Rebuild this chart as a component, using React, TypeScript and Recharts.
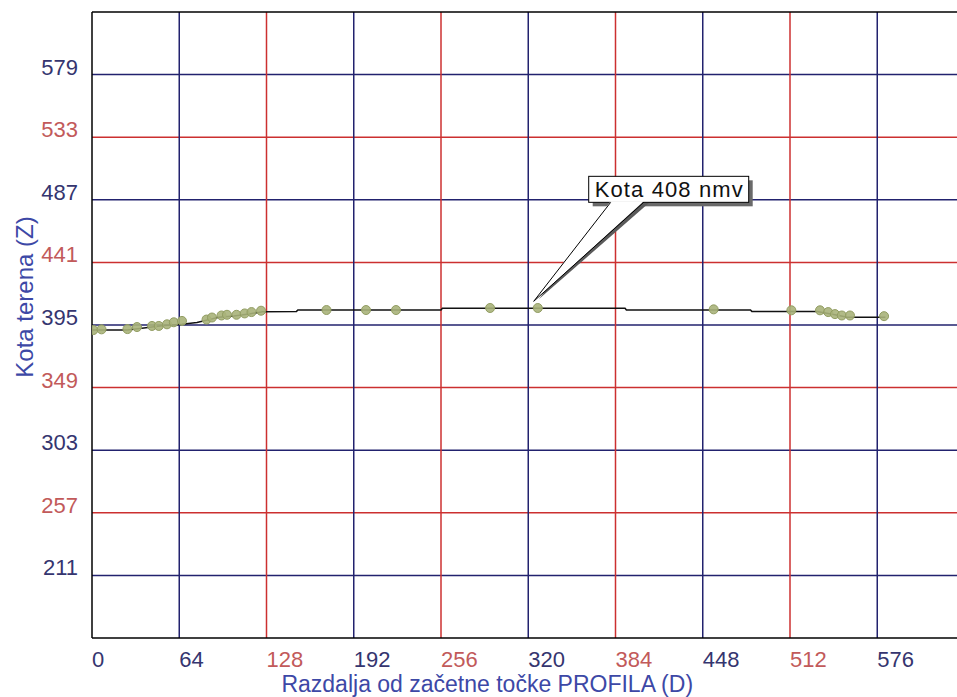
import React from "react";
import {
  ComposedChart,
  Line,
  XAxis,
  YAxis,
  ReferenceLine,
  ReferenceDot,
  Label,
} from "recharts";

// measured survey points (distance D, elevation Z)
const pointDist = [1, 7, 26, 33, 44, 49, 55, 60, 66, 84, 88, 95, 99, 106, 112, 117, 124, 172, 201, 223, 292, 327, 456, 513, 534, 540, 545, 550, 556, 581];
const pointElev = [391.3, 391.8, 392, 393.5, 394.3, 394.3, 395.5, 397, 398, 399, 400.5, 402, 402.5, 402.5, 403.5, 404.5, 405.5, 406, 406, 406, 407.5, 407.5, 406.5, 405.8, 405.8, 404.5, 403, 402, 402, 401.5];

// terrain profile line
const lineDist = [0, 26, 53, 66, 77, 93, 104, 115, 125, 150, 151, 256, 257, 391, 392, 483, 484, 532, 545, 554, 582];
const lineElev = [391.3, 391.3, 394.6, 395.5, 396.8, 400.7, 401.6, 403, 404.8, 405, 406, 406, 407.3, 407.3, 406, 406, 405, 405, 402.5, 400.7, 400.7];

const xTicks = [0, 64, 128, 192, 256, 320, 384, 448, 512, 576];
const yTicks = [211, 257, 303, 349, 395, 441, 487, 533, 579];

const calloutAt = { d: 324, z: 412.4, text: "Kota 408 nmv" };

const points = pointDist.map((d, i) => ({ d, z: pointElev[i] }));
const profile = lineDist.map((d, i) => ({ d, z: lineElev[i] }));

const BLUE = "#22226e";
const RED = "#cc3030";
const BLUE_TXT = "#35356f";
const RED_TXT = "#c25a5a";
const TITLE = "#3d48a6";
const FONT = "'Liberation Sans', Arial, sans-serif";

const xIsRed = (v: number) => v > 0 && (v / 64) % 2 === 0;
const yIsRed = (v: number) => ((v - 211) / 46) % 2 === 1;

const XTick = (props: any) => {
  const v = props.payload.value;
  return (
    <text x={props.x} y={props.y + 27} textAnchor="start" fontSize={22} fontFamily={FONT} fill={xIsRed(v) ? RED_TXT : BLUE_TXT}>
      {v}
    </text>
  );
};

const YTick = (props: any) => {
  const v = props.payload.value;
  return (
    <text x={props.x} y={props.y} textAnchor="end" fontSize={22} fontFamily={FONT} fill={yIsRed(v) ? RED_TXT : BLUE_TXT}>
      {v}
    </text>
  );
};

const Callout = (props: any) => {
  const { cx, cy } = props;
  const bx = cx + 55;
  const by = cy - 125;
  return (
    <g>
      <rect x={bx + 4} y={by + 4} width={160} height={26} fill="#6a6a6a" />
      <polygon points={`${cx + 80},${by + 26} ${cx + 116},${by + 26} ${cx + 5},${cy - 2}`} fill="#5a5a5a" />
      <rect x={bx} y={by} width={160} height={26} fill="#fff" stroke="#000" strokeWidth={1} />
      <polygon points={`${cx + 77},${by + 25} ${cx + 110},${by + 25} ${cx},${cy}`} fill="#fff" />
      <polyline points={`${cx + 77},${by + 26} ${cx},${cy} ${cx + 110},${by + 26}`} fill="none" stroke="#000" strokeWidth={1} />
      <text x={bx + 6} y={by + 21} fontSize={22} textLength={148} fontFamily={FONT} fill="#111">
        {calloutAt.text}
      </text>
    </g>
  );
};

export default function App() {
  return (
    <div style={{ position: "absolute", left: 0, top: 0, width: 957, height: 697, overflow: "hidden", background: "#fff" }}>
      <ComposedChart width={965} height={697} margin={{ top: 12, right: 0.5, left: 0, bottom: 0 }}>
        <XAxis
          type="number"
          dataKey="d"
          domain={[0, 640]}
          ticks={xTicks}
          interval={0}
          tickSize={0}
          tickLine={false}
          height={59}
          allowDataOverflow
          axisLine={{ stroke: "#000", strokeWidth: 1.5 }}
          tick={<XTick />}
        >
          <Label value="Razdalja od začetne točke PROFILA (D)" position="insideBottom" offset={5} dx={-41} fontSize={23} fontFamily={FONT} fill={TITLE} />
        </XAxis>
        <YAxis
          type="number"
          dataKey="z"
          domain={[165, 625]}
          ticks={yTicks}
          interval={0}
          tickSize={0}
          tickMargin={14}
          tickLine={false}
          width={92}
          allowDataOverflow
          axisLine={{ stroke: "#000", strokeWidth: 1.5 }}
          tick={<YTick />}
        >
          <Label value="Kota terena (Z)" angle={-90} position="insideLeft" offset={24} dy={-28} fontSize={24} fontFamily={FONT} fill={TITLE} style={{ textAnchor: "middle" }} />
        </YAxis>
        {yTicks.map((v) => (
          <ReferenceLine key={"y" + v} y={v} stroke={yIsRed(v) ? RED : BLUE} strokeWidth={1.5} />
        ))}
        {xTicks.filter((v) => v > 0).map((v) => (
          <ReferenceLine key={"x" + v} x={v} stroke={xIsRed(v) ? RED : BLUE} strokeWidth={1.5} />
        ))}
        <ReferenceLine y={625} stroke="#000" strokeWidth={1.5} />
        <Line data={profile} dataKey="z" type="linear" stroke="#111" strokeWidth={1.5} dot={false} isAnimationActive={false} />
        <Line
          data={points}
          dataKey="z"
          type="linear"
          stroke="none"
          dot={{ r: 4.5, fill: "#a8b27a", stroke: "#929d62", strokeWidth: 1, fillOpacity: 0.9 }}
          activeDot={false}
          isAnimationActive={false}
        />
        <ReferenceDot x={calloutAt.d} y={calloutAt.z} shape={<Callout />} />
      </ComposedChart>
    </div>
  );
}
